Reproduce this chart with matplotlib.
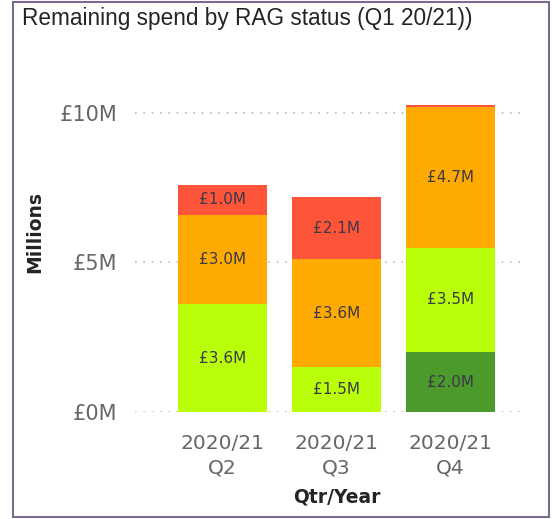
import matplotlib
matplotlib.use("Agg")
import matplotlib.pyplot as plt
from matplotlib.patches import Rectangle

categories = ["2020/21\nQ2", "2020/21\nQ3", "2020/21\nQ4"]
dark_green = [0.0, 0.0, 2.0]
light_green = [3.6, 1.5, 3.5]
amber = [3.0, 3.6, 4.7]
red = [1.0, 2.1, 0.06]
yticks = [0, 5, 10]
ytick_labels = ["£0M", "£5M", "£10M"]

series = [
    (dark_green, "#4b9a2b"),
    (light_green, "#b9ff0a"),
    (amber, "#ffaa00"),
    (red, "#fe5439"),
]

plt.rcParams["font.family"] = ["DejaVu Sans"]

fig = plt.figure(figsize=(5.52, 5.19), dpi=100)
ax = fig.add_axes([135 / 552, 1 - 412 / 519, (520 - 135) / 552, (412 - 98) / 519])

x = list(range(len(categories)))
bottom = [0.0] * len(categories)
for vals, col in series:
    ax.bar(x, vals, bottom=bottom, width=0.78, color=col, zorder=3)
    for i, v in enumerate(vals):
        if v >= 0.5:
            ax.text(i, bottom[i] + v / 2, f"£{v:.1f}M", ha="center", va="center",
                    fontsize=11, color="#3a3a4a", zorder=4)
    bottom = [b + v for b, v in zip(bottom, vals)]

ax.set_xlim(-0.768, 2.61)
ax.set_ylim(0, 10.5)
ax.set_yticks(yticks)
ax.set_yticklabels(ytick_labels, fontsize=15, color="#666666")
ax.set_xticks(x)
ax.set_xticklabels(categories, fontsize=14.5, color="#666666", linespacing=1.35)
ax.tick_params(axis="x", length=0, pad=16)
ax.tick_params(axis="y", length=0, pad=13)
ax.grid(axis="y", linestyle=(0, (1, 4)), color="#bbbbbb", linewidth=1.2, zorder=1)
for s in ax.spines.values():
    s.set_visible(False)

fig.text(337 / 552, 1 - 497 / 519, "Qtr/Year", fontsize=13.5, fontweight="bold",
         color="#252423", ha="center", va="center")
fig.text(35 / 552, 1 - 232 / 519, "Millions", fontsize=13.5, fontweight="bold",
         color="#252423", ha="center", va="center", rotation=90)

fig.text(22 / 552, 1 - 25 / 519, "Remaining spend by RAG status (Q1 20/21))",
         fontsize=16.3, color="#252423", ha="left", va="baseline",
         family=["Liberation Sans", "DejaVu Sans"])

border = Rectangle((13 / 552, 2 / 519), (549 - 13) / 552, (517 - 2) / 519,
                   transform=fig.transFigure, fill=False, edgecolor="#7b6b8e",
                   linewidth=1.5)
fig.patches.append(border)

fig.savefig("out.png", dpi=100)
